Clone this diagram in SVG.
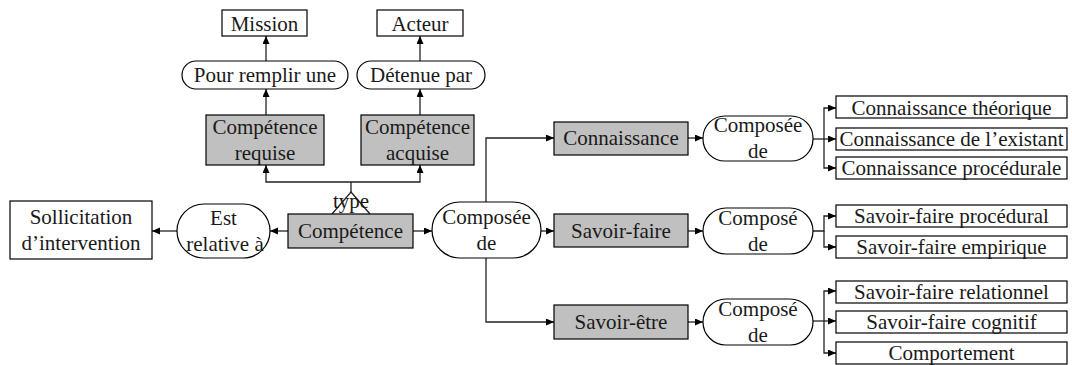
<svg xmlns="http://www.w3.org/2000/svg" width="1072" height="365" viewBox="0 0 1072 365">
<style>
.t{font-family:"Liberation Serif","Times New Roman",serif;font-size:21px;fill:#1a1a1a;text-anchor:middle}
.b{fill:#fff;stroke:#000;stroke-width:1.2}
.g{fill:#c0c0c0;stroke:#000;stroke-width:1.2}
.c{fill:none;stroke:#222;stroke-width:1.3}
</style>
<defs>
<marker id="a" markerUnits="userSpaceOnUse" markerWidth="9" markerHeight="8" refX="8" refY="3.5" orient="auto">
<path d="M0,0 L8,3.5 L0,7 z" fill="#000"/>
</marker>
<marker id="as" markerUnits="userSpaceOnUse" markerWidth="9" markerHeight="8" refX="8" refY="3.5" orient="auto-start-reverse">
<path d="M0,0 L8,3.5 L0,7 z" fill="#000"/>
</marker>
</defs>
<g id="connectors">
<path class="c" d="M266,115 V89" marker-end="url(#a)"/>
<path class="c" d="M266,61 V36" marker-end="url(#a)"/>
<path class="c" d="M420,115 V89" marker-end="url(#a)"/>
<path class="c" d="M420,61 V36" marker-end="url(#a)"/>
<path class="c" d="M266,165 V182 H420 V165" marker-start="url(#as)" marker-end="url(#a)"/>
<path class="c" d="M351,182 V192"/>
<path class="c" d="M332,214 L351,192 L370,214"/>
<path class="c" d="M288,231 H270" marker-end="url(#a)"/>
<path class="c" d="M177,231 H152" marker-end="url(#a)"/>
<path class="c" d="M413,231 H432" marker-end="url(#a)"/>
<path class="c" d="M541,231 H554" marker-end="url(#a)"/>
<path class="c" d="M486,202 V138 H554" marker-end="url(#a)"/>
<path class="c" d="M486,258 V322 H554" marker-end="url(#a)"/>
<path class="c" d="M688,138 H703" marker-end="url(#a)"/>
<path class="c" d="M688,231 H703" marker-end="url(#a)"/>
<path class="c" d="M688,322 H703" marker-end="url(#a)"/>
<path class="c" d="M813,139 H836" marker-end="url(#a)"/>
<path class="c" d="M824,139 V108 H836" marker-end="url(#a)"/>
<path class="c" d="M824,139 V168 H836" marker-end="url(#a)"/>
<path class="c" d="M813,231 H824 V216 H836" marker-end="url(#a)"/>
<path class="c" d="M824,231 V247 H836" marker-end="url(#a)"/>
<path class="c" d="M813,321 H836" marker-end="url(#a)"/>
<path class="c" d="M824,321 V291 H836" marker-end="url(#a)"/>
<path class="c" d="M824,321 V353 H836" marker-end="url(#a)"/>
</g>
<g id="mission"><rect class="b" x="222" y="10" width="85" height="26"/><text class="t" x="264.5" y="30.5">Mission</text></g>
<g id="acteur"><rect class="b" x="377" y="10" width="86" height="26"/><text class="t" x="420" y="30.5">Acteur</text></g>
<g id="pour-remplir"><rect class="b" x="182" y="61" width="166" height="28" rx="14"/><text class="t" x="265" y="82">Pour remplir une</text></g>
<g id="detenue-par"><rect class="b" x="357" y="61" width="128" height="28" rx="14"/><text class="t" x="421" y="82">Détenue par</text></g>
<g id="competence-requise"><rect class="g" x="206" y="115" width="118" height="50"/><text class="t" x="265" y="134">Compétence</text><text class="t" x="265" y="160">requise</text></g>
<g id="competence-acquise"><rect class="g" x="361" y="115" width="113" height="50"/><text class="t" x="417.5" y="134">Compétence</text><text class="t" x="417.5" y="160">acquise</text></g>
<g id="competence"><rect class="g" x="288" y="214" width="125" height="34"/><text class="t" x="350.5" y="238">Compétence</text></g>
<g id="type"><text class="t" x="351" y="208">type</text></g>
<g id="sollicitation"><rect class="b" x="10" y="201" width="142" height="58"/><text class="t" x="81" y="224">Sollicitation</text><text class="t" x="81" y="250">d’intervention</text></g>
<g id="est-relative"><rect class="b" x="177" y="204" width="93" height="54" rx="27"/><text class="t" x="223.5" y="225">Est</text><text class="t" x="225" y="251">relative à</text></g>
<g id="composee"><rect class="b" x="432" y="202" width="109" height="56" rx="28"/><text class="t" x="486.5" y="224">Composée</text><text class="t" x="486.5" y="250">de</text></g>
<g id="connaissance"><rect class="g" x="554" y="122" width="134" height="33"/><text class="t" x="621" y="145">Connaissance</text></g>
<g id="savoir-faire"><rect class="g" x="554" y="214" width="134" height="33"/><text class="t" x="621" y="238">Savoir-faire</text></g>
<g id="savoir-etre"><rect class="g" x="554" y="305" width="134" height="34"/><text class="t" x="621" y="329">Savoir-être</text></g>
<g id="composee-1"><rect class="b" x="703" y="116" width="110" height="45" rx="22"/><text class="t" x="758" y="132">Composée</text><text class="t" x="758" y="158">de</text></g>
<g id="composee-2"><rect class="b" x="703" y="208" width="110" height="46" rx="23"/><text class="t" x="758" y="225">Composé</text><text class="t" x="758" y="251">de</text></g>
<g id="composee-3"><rect class="b" x="703" y="299" width="110" height="46" rx="23"/><text class="t" x="758" y="316">Composé</text><text class="t" x="758" y="342">de</text></g>
<g id="connaissance-theorique"><rect class="b" x="836" y="96" width="231" height="22"/><text class="t" x="951.5" y="114.5">Connaissance théorique</text></g>
<g id="connaissance-existant"><rect class="b" x="836" y="128" width="231" height="22"/><text class="t" x="951.5" y="146">Connaissance de l’existant</text></g>
<g id="connaissance-procedurale"><rect class="b" x="836" y="157" width="231" height="22"/><text class="t" x="951.5" y="175">Connaissance procédurale</text></g>
<g id="sf-procedural"><rect class="b" x="836" y="205" width="231" height="22"/><text class="t" x="951.5" y="223">Savoir-faire procédural</text></g>
<g id="sf-empirique"><rect class="b" x="836" y="236" width="231" height="22"/><text class="t" x="951.5" y="254">Savoir-faire empirique</text></g>
<g id="sf-relationnel"><rect class="b" x="836" y="281" width="231" height="22"/><text class="t" x="951.5" y="299">Savoir-faire relationnel</text></g>
<g id="sf-cognitif"><rect class="b" x="836" y="311" width="231" height="22"/><text class="t" x="951.5" y="329">Savoir-faire cognitif</text></g>
<g id="comportement"><rect class="b" x="836" y="342" width="231" height="22"/><text class="t" x="951.5" y="360">Comportement</text></g>
</svg>
